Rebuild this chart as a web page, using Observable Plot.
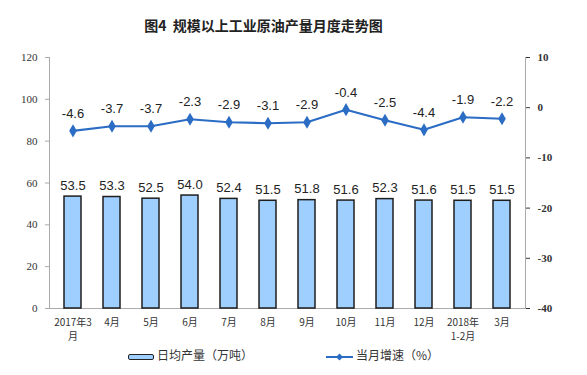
<!DOCTYPE html>
<html><head><meta charset="utf-8">
<script src="https://cdn.jsdelivr.net/npm/d3@7"></script>
<script src="https://cdn.jsdelivr.net/npm/@observablehq/plot@0.6"></script>
<style>
body{margin:0;background:#fff;width:587px;height:375px;overflow:hidden;font-family:"Noto Sans CJK SC",sans-serif;}
#title{height:44px;line-height:50px;text-align:center;font-size:14px;font-weight:bold;color:#222;padding-right:60px;}
#legend{position:absolute;top:345px;left:0;width:587px;height:20px;font-size:12px;color:#333;}
.li{position:absolute;top:0;height:20px;line-height:20px;}
svg{display:block}
</style></head>
<body>
<div id="title">图4&nbsp; 规模以上工业原油产量月度走势图</div>
<div id="chart"></div>
<div id="legend">
  <div class="li" style="left:128px;"><span style="display:inline-block;width:24px;height:4px;background:#9fcfff;border:1.5px solid #222;border-radius:2px;vertical-align:middle;margin-right:3px;"></span>日均产量（万吨）</div>
  <div class="li" style="left:326px;"><svg width="27" height="20" style="display:inline-block;vertical-align:middle;margin-right:3px;"><line x1="0" y1="10" x2="27" y2="10" stroke="#2b6cc4" stroke-width="2"/><path d="M13.5,6.5L17,10L13.5,13.5L10,10Z" fill="#2b6cc4"/></svg>当月增速（%）</div>
</div>
<script>
const months = ["2017年3\n月","4月","5月","6月","7月","8月","9月","10月","11月","12月","2018年\n1-2月","3月"];
const output = [53.5,53.3,52.5,54.0,52.4,51.5,51.8,51.6,52.3,51.6,51.5,51.5];
const growth = [-4.6,-3.7,-3.7,-2.3,-2.9,-3.1,-2.9,-0.4,-2.5,-4.4,-1.9,-2.2];
const leftTicks = [0,20,40,60,80,100,120];
const rightTicks = [-40,-30,-20,-10,0,10];

const toLeft = v => (v + 40) * 120 / 50;
const data = months.map((m,i) => ({m, out: output[i], g: growth[i], gy: toLeft(growth[i])}));
const serif = "'Liberation Serif', 'Times New Roman', serif";

const chart = Plot.plot({
  width: 587, height: 300,
  marginLeft: 49, marginRight: 62, marginTop: 13, marginBottom: 36,
  style: {fontFamily: serif, fontSize: "11px", color: "#333", background: "#fff"},
  x: {type: "band", domain: months, paddingInner: 0.57, paddingOuter: 0.285, label: null},
  y: {domain: [0,120], label: null},
  marks: [
    Plot.frame({anchor: "left", stroke: "#aaa"}),
    Plot.frame({anchor: "right", stroke: "#aaa"}),
    Plot.frame({anchor: "bottom", stroke: "#aaa"}),
    Plot.axisY({ticks: leftTicks, tickSize: 4, tickPadding: 8, label: null, stroke:"#aaa", fill:"#333", fontFamily: serif, fontSize: 11}),
    Plot.axisY({anchor: "right", ticks: rightTicks.map(toLeft), tickFormat: (d) => String(Math.round(d*50/120 - 40)), tickSize: 4, tickPadding: 8, label: null, fontWeight: "bold", fill:"#333", fontFamily: serif, fontSize: 11}),
    Plot.axisX({tickSize: 0, tickPadding: 8, label: null, fontFamily: "'Noto Sans CJK SC', sans-serif", fontSize: 10, lineHeight: 1.35, fill:"#333"}),
    Plot.barY(data, {x: "m", y: "out", fill: "#9fcfff", stroke: "#1e1e1e", strokeWidth: 1.5}),
    Plot.text(data, {x: "m", y: "out", text: d => d.out.toFixed(1), dy: -11, fontFamily: "'Liberation Sans', Arial, sans-serif", fontSize: 13, fill: "#222"}),
    Plot.line(data, {x: "m", y: "gy", stroke: "#2b6cc4", strokeWidth: 2.2}),
    Plot.dot(data, {x: "m", y: "gy", symbol: "diamond", r: 4, fill: "#2b6cc4"}),
    Plot.text(data, {x: "m", y: "gy", text: d => d.g.toFixed(1), dy: -17, fontFamily: "'Liberation Sans', Arial, sans-serif", fontSize: 13, fill: "#222"})
  ]
});
document.getElementById("chart").appendChild(chart);
</script>
</body></html>
